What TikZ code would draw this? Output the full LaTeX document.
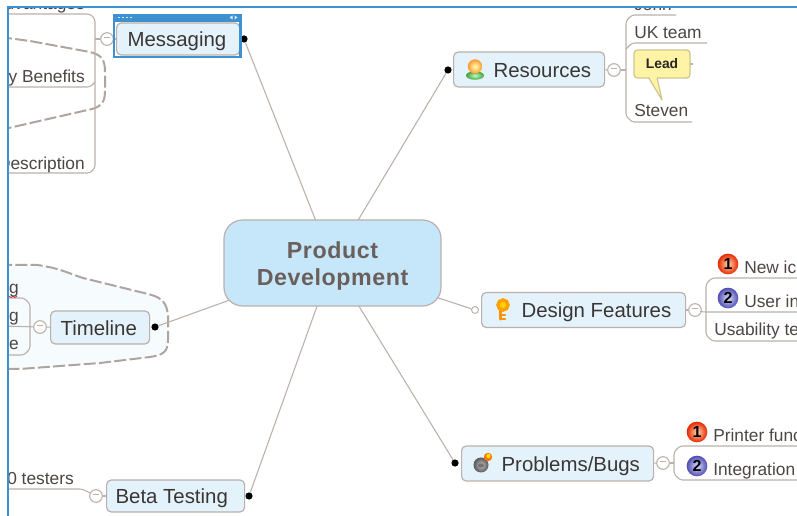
\documentclass[tikz,border=0pt]{standalone}
\usepackage{fontspec}
\setmainfont{Liberation Sans}
\definecolor{bord}{HTML}{BBB1AC}
\definecolor{dashc}{HTML}{AFA5A0}
\definecolor{topicfill}{HTML}{E4F3FB}
\definecolor{centerfill}{HTML}{C6E7F9}
\definecolor{centertext}{HTML}{6A5F5B}
\definecolor{inktext}{HTML}{3B3635}
\definecolor{subtext}{HTML}{4C4644}
\definecolor{framec}{HTML}{3F90CE}
\definecolor{boundfill}{HTML}{F6FBFE}
\definecolor{leadfill}{HTML}{FFF3A6}
\definecolor{leadbord}{HTML}{CFC58E}
\newcommand\toptext[3]{\makebox[\dimexpr#1pt*3/4\relax][l]{\hspace*{\dimexpr#2pt*3/4\relax}#3}}
\tikzset{
  x=0.75pt,y=-0.75pt,
  link/.style={draw=bord,line width=0.8pt},
  treeline/.style={draw=bord,line width=0.8pt,rounded corners=2pt},
  bound/.style={draw=dashc,line width=1.5pt,dash pattern=on 9pt off 2.5pt},
  topicnode/.style={draw=bord,line width=0.9pt,fill=topicfill,rounded corners=3.5pt,anchor=west,inner xsep=0pt,inner ysep=0pt,
    text=inktext,font=\fontsize{15.3}{18}\selectfont,text height=14pt,text depth=2pt},
  centernode/.style={draw=bord,line width=0.9pt,fill=centerfill,rounded corners=14pt,align=center,text=centertext,
    font=\fontsize{17.4}{20}\selectfont\bfseries\addfontfeature{LetterSpace=2.5},minimum width=162.75pt,minimum height=64.5pt,inner sep=0pt},
  subL/.style={anchor=base west,inner sep=0pt,text=subtext,font=\fontsize{13}{15}\selectfont},
  subR/.style={anchor=base east,inner sep=0pt,text=subtext,font=\fontsize{13}{15}\selectfont},
  dotb/.style={circle,fill=black,minimum size=5.4pt,inner sep=0pt},
  doto/.style={circle,draw=bord,fill=white,line width=0.7pt,minimum size=5.2pt,inner sep=0pt},
  collapse/.style={circle,draw=bord,fill=white,line width=0.8pt,minimum size=9.5pt,inner sep=0pt,text=bord},
  badgeA/.style={circle,minimum size=15.5pt,inner sep=0pt,inner color=orange!30!white,outer color=red!65!orange!90!black,font=\fontsize{12}{12}\selectfont\bfseries,text=black},
  badgeB/.style={circle,minimum size=15.5pt,inner sep=0pt,inner color=blue!12!white,outer color=blue!40!gray,font=\fontsize{12}{12}\selectfont\bfseries,text=black},
}
\begin{document}
\begin{tikzpicture}
\useasboundingbox (0,0) rectangle (797,516);
\fill[white] (0,0) rectangle (797,516);
\begin{scope}
\clip (8,7) rectangle (797,516);

% boundaries
\path[bound,fill=boundfill] (0,265) -- (37,265) .. controls (60,268) and (70,274) .. (83,278)
  -- (150,294.5) .. controls (163,298) and (167,304) .. (168,316) -- (168,340)
  .. controls (168,352) and (163,355) .. (150,357) -- (100,363) -- (20,369) -- (0,369);
\path[bound] (0,37) -- (30,41) -- (90,52) .. controls (102,55) and (105,60) .. (105,72)
  -- (105,90) .. controls (105,102) and (102,106) .. (92,109) -- (0,130);

% centre point that the links run to
\coordinate (cc) at (332.5,263);

% end dots and links
\node[dotb] (dm) at (244,39) {};
\node[dotb] (dr) at (448,70) {};
\node[doto] (dd) at (475,310) {};
\node[dotb] (dp) at (455,463) {};
\node[dotb] (dt) at (155,327) {};
\node[dotb] (db) at (249,496) {};
\foreach \d in {dm,dr,dd,dp,dt,db} \draw[link] (\d) -- (cc);

% central
\node[centernode] (central) at (cc) {\rule{0pt}{17pt}Product\\Development};

% topics
\node[topicnode,minimum height=24pt] (messaging) at (116,39) {\toptext{123}{11}{Messaging}};
\node[topicnode,minimum height=26.25pt] (resources) at (453,69.5) {\toptext{151}{40}{Resources}};
\node[topicnode,minimum height=26.25pt] (design) at (481,310) {\toptext{204}{40}{Design Features}};
\node[topicnode,minimum height=26.25pt] (problems) at (461,463.5) {\toptext{192}{40}{Problems/Bugs}};
\node[topicnode,minimum height=24.75pt] (timeline) at (50,327.5) {\toptext{99}{10}{Timeline}};
\node[topicnode,minimum height=24pt] (beta) at (106,496) {\toptext{138}{9}{Beta Testing}};

% collapse buttons
\node[collapse] (cm) at (107,39) {\rule[2.2pt]{4pt}{0.7pt}};
\node[collapse] (cr) at (614,70) {\rule[2.2pt]{4pt}{0.7pt}};
\node[collapse] (cd) at (695,310) {\rule[2.2pt]{4pt}{0.7pt}};
\node[collapse] (cp) at (663,463) {\rule[2.2pt]{4pt}{0.7pt}};
\node[collapse] (ct) at (40,327) {\rule[2.2pt]{4pt}{0.7pt}};
\node[collapse] (cb) at (96,496) {\rule[2.2pt]{4pt}{0.7pt}};
\draw[link] (cm) -- (messaging);
\draw[link] (cr) -- (resources);
\draw[link] (cd) -- (design);
\draw[link] (cp) -- (problems);
\draw[link] (ct) -- (timeline);
\draw[link] (cb) -- (beta);

% subtopic text
\node[subR] (adv) at (85,10) {dvantages};
\node[subR] (key) at (85,83) {y Benefits};
\node[subR] (desc) at (85,170) {Description};
\node[subL] (john) at (634,11) {John};
\node[subL] (uk) at (634,39) {UK team};
\node[subL] (steven) at (634,117) {Steven};
\node[subL] (newi) at (744,274) {New ico};
\node[subL] (useri) at (744,308) {User in};
\node[subL] (usab) at (714,335.5) {Usability te};
\node[subL] (print) at (713,441.5) {Printer func};
\node[subL] (integ) at (713,475.5) {Integration};
\node[subR] (testers) at (74,485) {0 testers};
\node[subR] (t1) at (19,294) {ng};
\node[subR] (t2) at (19,322) {ng};
\node[subR] (t3) at (19,350) {se};

% trees
\coordinate (mA) at (0,14); \coordinate (mB) at (0,87); \coordinate (mC) at (0,173);
\draw[treeline] (mA) -- (90,14) -- (95,19) -- (95,168) -- (90,173) -- (mC);
\draw[treeline] (mB) -- (90,87) -- (95,82);
\draw[link] (cm) -- (95,39);

\coordinate (rA) at (676,15); \coordinate (rB) at (707,43); \coordinate (rC) at (692,122);
\draw[treeline] (rA) -- (632,15) -- (626,21) -- (626,116) -- (632,122) -- (rC);
\draw[treeline] (626,49) -- (632,43) -- (rB);
\draw[link] (cr) -- (626,70);
\draw[link] (690,64) -- (693,64);

\coordinate (dA) at (800,278); \coordinate (dB) at (800,312); \coordinate (dC) at (800,341);
\draw[treeline] (dA) -- (712,278) -- (706,284) -- (706,335) -- (712,341) -- (dC);
\draw[treeline] (cd) -- (703,312) -- (dB);

\coordinate (pA) at (800,446); \coordinate (pB) at (800,480);
\draw[treeline] (pA) -- (680,446) -- (674,452) -- (674,474) -- (680,480) -- (pB);
\draw[link] (cp) -- (674,463);

\coordinate (tA) at (0,298); \coordinate (tB) at (0,355); \coordinate (tC) at (0,326);
\draw[treeline] (tA) -- (24,298) -- (30,304) -- (30,349) -- (24,355) -- (tB);
\draw[link] (ct) -- (tC);

\coordinate (bA) at (0,489);
\draw[treeline] (cb) -- (82,489) -- (bA);

% red squiggle
\draw[red!80!black,line width=0.4pt] (9,296) -- (11,297.5) -- (13,296) -- (15,297.5) -- (17,296);

% Lead callout
\node[draw=leadbord,line width=0.9pt,fill=leadfill,rounded corners=2.5pt,minimum width=42pt,minimum height=21pt,inner sep=0pt,
  text=black!85,font=\fontsize{10.4}{12}\selectfont\bfseries] (lead) at (662,64) {Lead};
\draw[draw=leadbord,line width=0.9pt,fill=leadfill,line join=round]
  (648.5,77.5) -- (662,100) -- (657,77.5);
\fill[leadfill] (649.5,76) rectangle (656.5,78.5);

% badges
\node[badgeA] (b1) at (728,264) {1};
\node[badgeB] (b2) at (728,298) {2};
\node[badgeA] (b3) at (697,432) {1};
\node[badgeB] (b4) at (697,466) {2};

% person icon
\shade[inner color=green!25!white,outer color=green!50!black!75!white] (475,75.5) ellipse (9 and 4.2);
\shade[inner color=yellow!30!white,outer color=orange!80!white] (475,66.5) circle (7.2);

% key icon
\begin{scope}[line cap=round]
\draw[draw=orange!85!yellow,line width=2.4pt] (500.5,311) -- (500.5,319);
\draw[draw=orange!85!yellow,line width=1.6pt] (501,315) -- (505,315);
\draw[draw=orange!85!yellow,line width=1.6pt] (501,319) -- (505,319);
\draw[draw=orange!75!yellow,line width=2.6pt,fill=yellow!70!orange] (503,305) circle (5);
\end{scope}

% bomb icon
\shade[inner color=black!25!white,outer color=black!65!white] (481,465) circle (7.5);
\fill[black!55] (481,465.5) ellipse (3 and 2);
\draw[draw=orange!90!red,line width=1.2pt] (485,459) -- (489,455);
\fill[orange!90!red] (488,457) circle (4.2);
\fill[yellow!85!orange] (488.5,456) circle (2.2);

% Messaging selection frame
\draw[draw=framec,line width=1.6pt] (114,15) rectangle (240.5,57);
\fill[framec] (114,15) rectangle (240.5,22);
\foreach \tx in {118,122,126,130} \fill[white!80!framec] (\tx,17) rectangle +(1.5,1.5);
\fill[white!80!framec] (232.5,15.5) -- (232.5,19.5) -- (229.5,17.5) -- cycle;
\fill[white!80!framec] (234.5,15.5) -- (234.5,19.5) -- (237.5,17.5) -- cycle;
\end{scope}

% window frame
\draw[draw=framec,line width=1.1pt] (8,516) -- (8,7) -- (797,7);
\end{tikzpicture}
\end{document}
